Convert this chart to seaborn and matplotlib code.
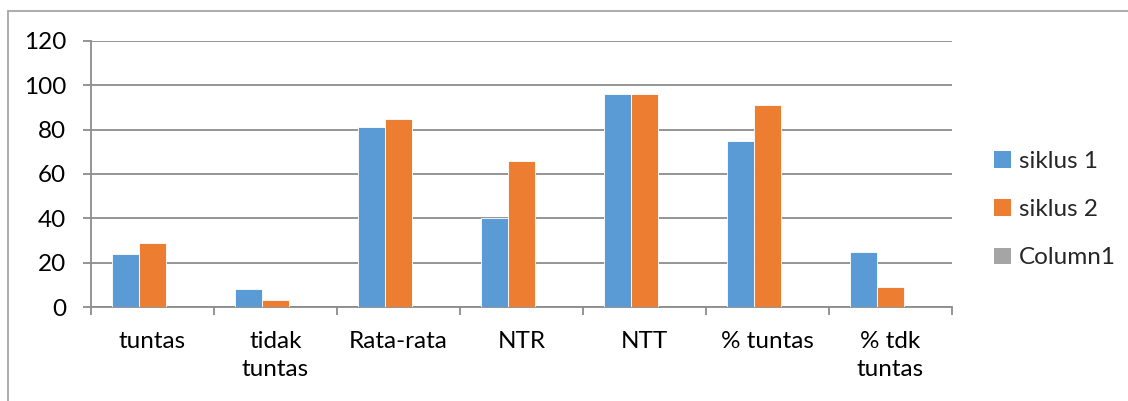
import matplotlib
matplotlib.use("Agg")
import matplotlib.pyplot as plt
from matplotlib.patches import Patch
from matplotlib.lines import Line2D
import numpy as np
import pandas as pd
import seaborn as sns

# Chart data
categories = ["tuntas", "tidak\ntuntas", "Rata-rata", "NTR", "NTT", "% tuntas", "% tdk\ntuntas"]
siklus_1 = [24, 8, 81, 40, 96, 75, 25]
siklus_2 = [29, 3, 85, 66, 96, 91, 9]
column_1 = [np.nan] * 7  # empty series, kept for its slot and legend entry
series_names = ["siklus 1", "siklus 2", "Column1"]
y_ticks = [0, 20, 40, 60, 80, 100, 120]

colors = ["#5B9BD5", "#ED7D31", "#A5A5A5"]
grid_color = "#8C8C8C"
font_size = 17.5

df = pd.DataFrame({
    "kategori": categories * 3,
    "nilai": siklus_1 + siklus_2 + column_1,
    "seri": [s for s in series_names for _ in categories],
})

sns.set_theme(style="white")
plt.rcParams["font.family"] = ["Lato", "DejaVu Sans"]

fig = plt.figure(figsize=(11.28, 4.01), dpi=100)
ax = fig.add_axes([0.0807, 0.2344, 0.7633, 0.6634])

sns.barplot(data=df, x="kategori", y="nilai", hue="seri", order=categories,
            hue_order=series_names, palette=colors, width=0.66, gap=0,
            saturation=1, errorbar=None, legend=False, ax=ax, zorder=3,
            edgecolor="white", linewidth=0.6)

ax.set_ylim(0, 120)
ax.set_xlim(-0.5, len(categories) - 0.5)
ax.set_yticks(y_ticks)
ax.set_yticklabels([str(t) for t in y_ticks], fontsize=font_size, color="black")
ax.set_xticks(range(len(categories)))
ax.set_xticklabels(categories, fontsize=font_size, color="black", linespacing=1.45,
                   va="top")
ax.set_xticks(np.arange(-0.5, len(categories), 1.0), minor=True)
ax.set_xlabel("")
ax.set_ylabel("")

ax.yaxis.grid(True, color=grid_color, linewidth=1.3, zorder=0)
ax.set_axisbelow(True)
for side in ["top", "right"]:
    ax.spines[side].set_visible(False)
for side in ["left", "bottom"]:
    ax.spines[side].set_color(grid_color)
    ax.spines[side].set_linewidth(1.3)

ax.tick_params(axis="y", which="major", length=6, width=1.3, color=grid_color,
               direction="out", left=True, pad=12)
ax.tick_params(axis="x", which="major", length=0, pad=17)
ax.tick_params(axis="x", which="minor", length=6, width=1.3, color=grid_color,
               direction="out", bottom=True)

handles = [Patch(facecolor=c, edgecolor="none") for c in colors]
fig.legend(handles, series_names, loc="center left",
           bbox_to_anchor=(0.862, 0.477), frameon=False, fontsize=font_size,
           handlelength=0.68, handleheight=0.68, handletextpad=0.32,
           labelspacing=1.12)

# Chart-area border (left and top edges)
fig.add_artist(Line2D([0.0075, 0.0075], [0.0, 0.973], transform=fig.transFigure,
                      color="#A6A6A6", linewidth=1.3))
fig.add_artist(Line2D([0.0075, 1.0], [0.973, 0.973], transform=fig.transFigure,
                      color="#A6A6A6", linewidth=1.3))

fig.savefig("out.png", dpi=100, facecolor="white")
